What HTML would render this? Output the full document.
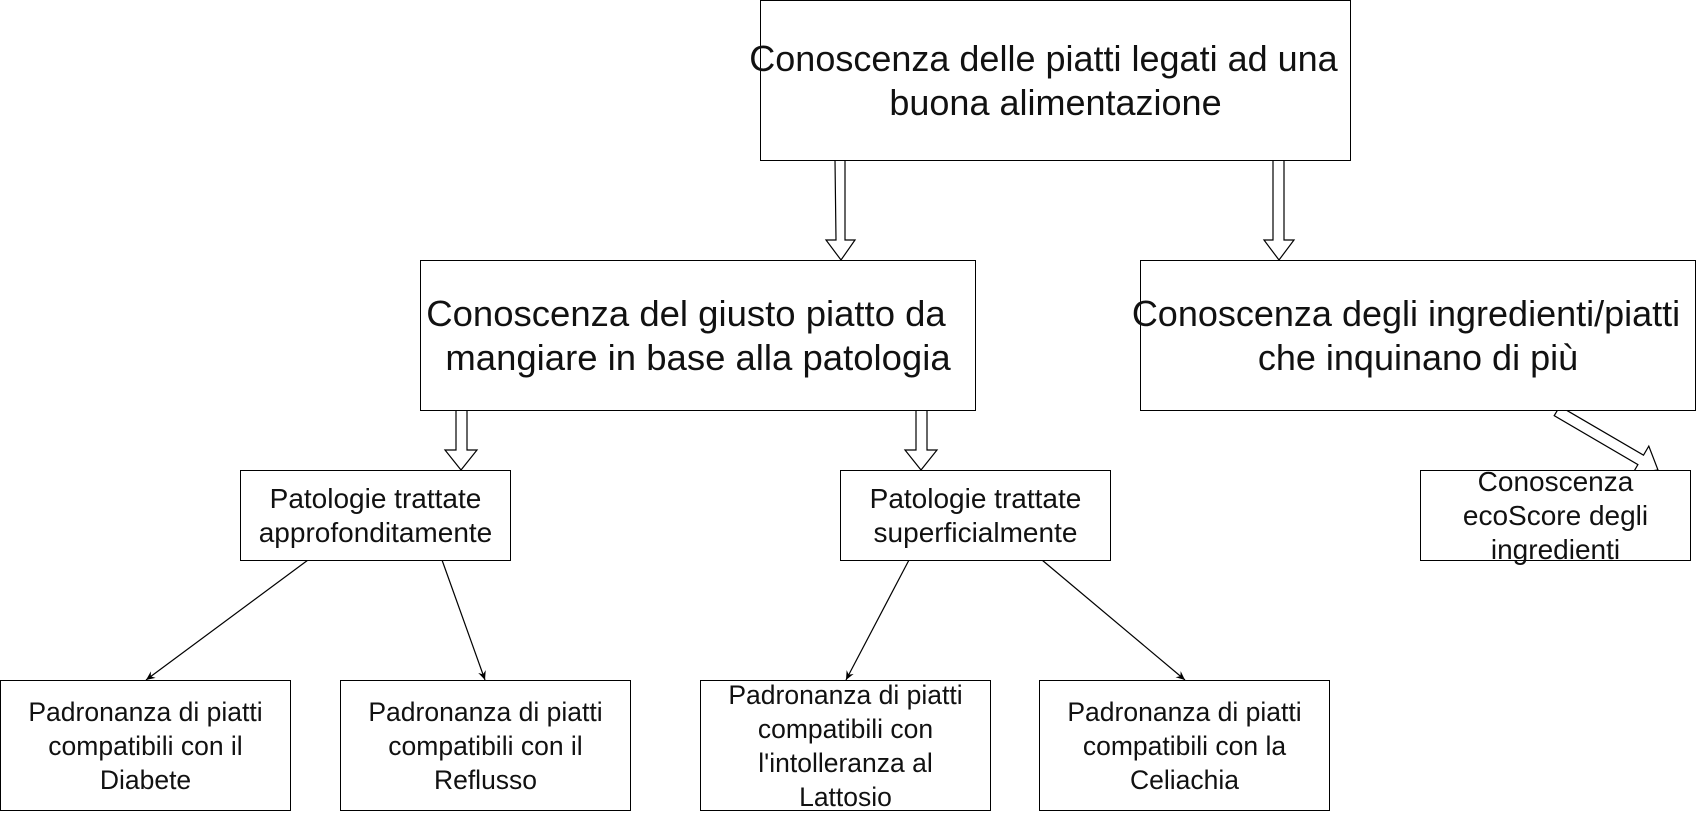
<!DOCTYPE html>
<html><head><meta charset="utf-8"><style>
body{margin:0;width:1696px;height:812px;background:#fff;position:relative;overflow:hidden;font-family:"Liberation Sans",sans-serif;}
.b{position:absolute;box-sizing:border-box;border:1.3px solid #000;display:flex;align-items:center;justify-content:center;text-align:center;color:#111;background:#fff;white-space:nowrap;}
.L{font-size:36px;line-height:44px;}
.L span{position:relative;left:-12px;}
.S{font-size:28px;line-height:34px;}
.M{font-size:26.5px;line-height:34px;}
svg{position:absolute;left:0;top:0;}
</style></head><body>
<svg width="1696" height="812">
<defs><marker id="a" markerWidth="10" markerHeight="10" refX="9" refY="5" orient="auto" markerUnits="userSpaceOnUse"><path d="M0,1 L9,5 L0,9 L3,5 Z" fill="#000"/></marker></defs>
<g fill="#fff" stroke="#000" stroke-width="1.2">
<polygon points="835,160 845,160 845,240 855,240 841,260 826,240 836,240"/>
<polygon points="1273,160 1284,160 1284,240 1294,240 1279,260 1264,240 1273,240"/>
<polygon points="456,410 467,410 467,450 477,450 461,470 445,450 456,450"/>
<polygon points="916,410 927,410 927,450 937,450 921,470 905,450 916,450"/>
<polygon points="1559.8,406.3 1643.5,455.2 1648.8,446.1 1658,470 1632.6,473.7 1637.9,464.6 1554.2,415.7"/>
</g>
<g stroke="#000" stroke-width="1.2" marker-end="url(#a)">
<line x1="308" y1="560" x2="146" y2="680"/>
<line x1="442" y1="560" x2="485" y2="680"/>
<line x1="909" y1="560" x2="846" y2="680"/>
<line x1="1042" y1="560" x2="1185" y2="680"/>
</g>
</svg>
<div class="b L" style="left:760px;top:0;width:591px;height:161px"><div><span>Conoscenza delle piatti legati ad una</span><br>buona alimentazione</div></div>
<div class="b L" style="left:420px;top:260px;width:556px;height:151px;font-size:36.5px"><div><span>Conoscenza del giusto piatto da</span><br>mangiare in base alla patologia</div></div>
<div class="b L" style="left:1140px;top:260px;width:556px;height:151px"><div><span>Conoscenza degli ingredienti/piatti</span><br>che inquinano di più</div></div>
<div class="b S" style="left:240px;top:470px;width:271px;height:91px">Patologie trattate<br>approfonditamente</div>
<div class="b S" style="left:840px;top:470px;width:271px;height:91px">Patologie trattate<br>superficialmente</div>
<div class="b S" style="left:1420px;top:470px;width:271px;height:91px">Conoscenza<br>ecoScore degli<br>ingredienti</div>
<div class="b M" style="left:0;top:680px;width:291px;height:131px">Padronanza di piatti<br>compatibili con il<br>Diabete</div>
<div class="b M" style="left:340px;top:680px;width:291px;height:131px">Padronanza di piatti<br>compatibili con il<br>Reflusso</div>
<div class="b M" style="left:700px;top:680px;width:291px;height:131px">Padronanza di piatti<br>compatibili con<br>l'intolleranza al<br>Lattosio</div>
<div class="b M" style="left:1039px;top:680px;width:291px;height:131px">Padronanza di piatti<br>compatibili con la<br>Celiachia</div>
</body></html>
